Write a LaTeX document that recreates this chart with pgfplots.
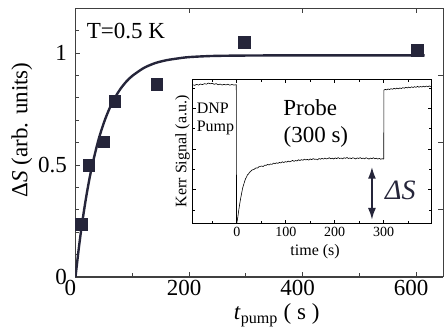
\documentclass[border=0pt]{standalone}
\usepackage{fontspec}
\setmainfont{Liberation Serif}
\usepackage{pgfplots}
\pgfplotsset{compat=1.18}
\usetikzlibrary{arrows.meta}
\definecolor{dat}{HTML}{25253A}
\definecolor{axc}{HTML}{404040}
\begin{document}
\begin{tikzpicture}
\useasboundingbox (-75.5pt,-55pt) rectangle (368.5pt,277pt);
\begin{axis}[
 at={(0pt,0pt)}, anchor=south west,
 scale only axis, width=367.8pt, height=268.7pt,
 xmin=0, xmax=648, ymin=0, ymax=1.2,
 axis x line*=bottom, axis y line*=left,
 axis line style={axc, line width=1.2pt},
 tick align=inside,
 xtick={0,200,400,600}, minor xtick={100,300,500},
 ytick={0,0.5,1}, yticklabels={0,0.5,1},
 minor ytick={0.1,0.2,0.3,0.4,0.6,0.7,0.8,0.9,1.1},
 major tick length=5pt, minor tick length=4pt,
 every tick/.style={axc, line width=0.9pt},
 /pgf/number format/assume math mode=true,
 ticklabel style={font=\fontsize{23}{26}\selectfont},
 xticklabel style={xshift=-5pt},
 yticklabel style={xshift=-5pt},
 xlabel={\textit{t}\textsubscript{pump} ( s )},
 ylabel={Δ\textit{S} (arb. units)},
 label style={font=\fontsize{23}{26}\selectfont},
 xlabel style={at={(axis description cs:0.547,-0.141)}, anchor=center},
 ylabel style={at={(axis description cs:-0.146,0.547)}, anchor=center},
]
\addplot[dat, line width=2.4pt, smooth] coordinates {
(0,0) (5,0.111) (10,0.210) (15,0.297) (20,0.375) (25,0.444) (30,0.505) (40,0.608) (50,0.689) (60,0.753) (70,0.803) (80,0.843) (90,0.874) (100,0.898) (120,0.933) (140,0.955) (160,0.968) (180,0.976) (200,0.982) (240,0.987) (300,0.989) (400,0.990) (500,0.990) (615,0.990)};
\addplot[only marks, mark=square*, mark size=5.8pt, dat] coordinates {
(10,0.237) (23,0.50) (50,0.605) (69,0.784) (143,0.861) (297,1.049) (602,1.012)};
\node[anchor=west, font=\fontsize{23}{26}\selectfont] at (axis cs:13.7,1.097) {T=0.5 K};
\end{axis}
\begin{axis}[
 at={(0pt,0pt)}, anchor=south west,
 scale only axis, width=367.8pt, height=268.7pt,
 xmin=0, xmax=648, ymin=0, ymax=1.2,
 axis x line*=top, axis y line*=right,
 axis line style={axc, line width=1.2pt},
 tick align=inside,
 xtick={200,400,600}, ytick={0.3,0.6,0.9},
 xticklabels={}, yticklabels={},
 major tick length=5pt,
 every tick/.style={axc, line width=0.9pt},
]
\addplot[draw=none] coordinates {(0,0)};
\end{axis}
\begin{axis}[
 at={(117.2pt,53.7pt)}, anchor=south west,
 scale only axis, width=239pt, height=144pt,
 xmin=-90, xmax=398, ymin=0, ymax=1,
 axis background/.style={fill=white},
 axis line style={black, line width=0.7pt},
 tick align=inside,
 xtick={0,100,200,300}, minor xtick={-50,50,150,250,350},
 ytick={0.236,0.516,0.797}, minor ytick={0.092,0.375,0.657,0.94},
 yticklabels={},
 major tick length=3.5pt, minor tick length=2.5pt,
 every tick/.style={black, line width=0.6pt},
 /pgf/number format/assume math mode=true,
 ticklabel style={font=\fontsize{14}{16}\selectfont},
 xlabel={time (s)}, ylabel={Kerr Signal (a.u.)},
 label style={font=\fontsize{16}{18}\selectfont},
 xlabel style={at={(axis description cs:0.512,-0.2)}, anchor=center},
 ylabel style={at={(axis description cs:-0.042,0.5)}, anchor=center},
]
\addplot[black, line width=0.6pt] coordinates {
(-90,0.962) (-86,0.958) (-82,0.965) (-78,0.960) (-74,0.967) (-70,0.963) (-66,0.970) (-62,0.966) (-58,0.974) (-54,0.969) (-50,0.972) (-46,0.965) (-42,0.970) (-38,0.962) (-34,0.967) (-30,0.960) (-26,0.965) (-22,0.961) (-18,0.966) (-14,0.959) (-10,0.964) (-6,0.960) (-2,0.962) (-1,0.962) (-0.5,0.002)
(0,0.0) (2,0.04) (4,0.09) (6,0.135) (8,0.175) (10,0.21) (12,0.245) (14,0.268) (16,0.29) (18,0.31) (20,0.322) (22,0.338) (24,0.342) (26,0.355) (28,0.358) (30,0.368) (33,0.372) (36,0.376) (39,0.385) (42,0.383) (45,0.392) (48,0.395) (51,0.398) (54,0.394) (57,0.404) (60,0.402) (63,0.409) (66,0.405) (69,0.412) (72,0.409) (75,0.418) (78,0.414) (81,0.420) (84,0.416) (87,0.423) (90,0.419) (93,0.427) (96,0.422) (99,0.428) (102,0.425) (105,0.432) (108,0.427) (111,0.431) (114,0.437) (117,0.430) (120,0.436) (123,0.433) (126,0.441) (129,0.436) (132,0.442) (135,0.438) (138,0.445) (141,0.440) (144,0.444) (147,0.439) (150,0.447) (153,0.442) (156,0.449) (159,0.444) (162,0.446) (165,0.441) (168,0.450) (171,0.445) (174,0.451) (177,0.446) (180,0.453) (183,0.447) (186,0.450) (189,0.455) (192,0.448) (195,0.452) (198,0.447) (201,0.454) (204,0.449) (207,0.456) (210,0.450) (213,0.453) (216,0.448) (219,0.455) (222,0.451) (225,0.457) (228,0.450) (231,0.454) (234,0.449) (237,0.455) (240,0.452) (243,0.447) (246,0.454) (249,0.450) (252,0.456) (255,0.449) (258,0.453) (261,0.448) (264,0.455) (267,0.451) (270,0.446) (273,0.453) (276,0.449) (279,0.455) (282,0.448) (285,0.452) (288,0.446) (291,0.451) (294,0.445) (297,0.449) (299,0.446) (300,0.448)
(300.5,0.925) (303,0.930) (306,0.927) (309,0.933) (312,0.929) (315,0.935) (318,0.931) (321,0.937) (324,0.933) (327,0.939) (330,0.934) (333,0.940) (336,0.936) (339,0.942) (342,0.938) (345,0.944) (348,0.940) (351,0.946) (354,0.941) (357,0.948) (360,0.943) (363,0.949) (366,0.944) (369,0.951) (372,0.945) (375,0.950) (378,0.946) (381,0.952) (384,0.947) (387,0.953) (390,0.948) (393,0.954) (396,0.949)};
\draw[dat, line width=2pt, {Latex[length=12pt,width=8pt]}-{Latex[length=12pt,width=8pt]}] (axis cs:276,0.393) -- (axis cs:276,0.023);
\node[font=\fontsize{28}{30}\selectfont\itshape, text=dat] at (axis cs:334,0.23) {ΔS};
\node[font=\fontsize{23}{26}\selectfont] at (axis cs:150,0.80) {Probe};
\node[font=\fontsize{23}{26}\selectfont] at (axis cs:161.5,0.60) {(300 s)};
\node[anchor=west, font=\fontsize{16}{18}\selectfont, inner sep=0pt] at (axis cs:-82,0.80) {DNP};
\node[anchor=west, font=\fontsize{16}{18}\selectfont, inner sep=0pt] at (axis cs:-82,0.664) {Pump};
\end{axis}
\end{tikzpicture}
\end{document}
